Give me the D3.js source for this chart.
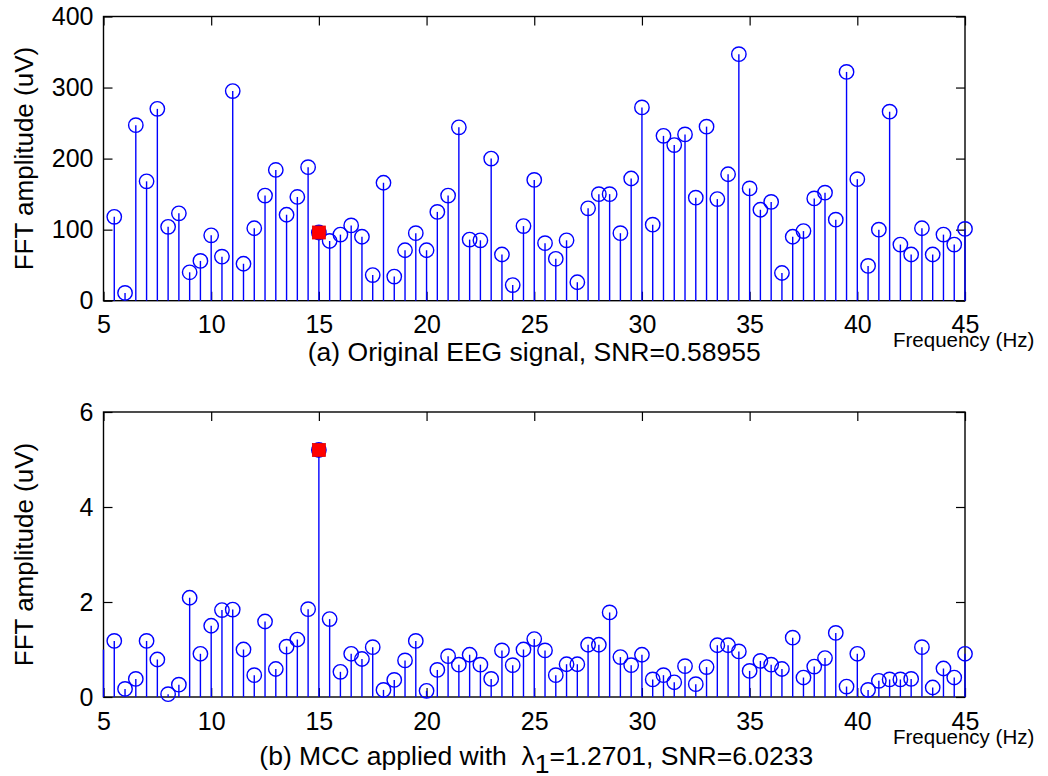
<!DOCTYPE html>
<html>
<head>
<meta charset="utf-8">
<script src="https://cdn.jsdelivr.net/npm/d3@7"></script>
<style>
  body { margin: 0; background: #ffffff; }
  text { font-family: "Liberation Sans", Arial, Helvetica, sans-serif; fill: #000; }
</style>
</head>
<body>
<svg id="fig" width="1048" height="776"></svg>
<script>
// FFT bins (Hz)
const freqs = [
   5.5,  6.0,  6.5,  7.0,  7.5,  8.0,  8.5,  9.0,  9.5, 10.0,
  10.5, 11.0, 11.5, 12.0, 12.5, 13.0, 13.5, 14.0, 14.5, 15.0,
  15.5, 16.0, 16.5, 17.0, 17.5, 18.0, 18.5, 19.0, 19.5, 20.0,
  20.5, 21.0, 21.5, 22.0, 22.5, 23.0, 23.5, 24.0, 24.5, 25.0,
  25.5, 26.0, 26.5, 27.0, 27.5, 28.0, 28.5, 29.0, 29.5, 30.0,
  30.5, 31.0, 31.5, 32.0, 32.5, 33.0, 33.5, 34.0, 34.5, 35.0,
  35.5, 36.0, 36.5, 37.0, 37.5, 38.0, 38.5, 39.0, 39.5, 40.0,
  40.5, 41.0, 41.5, 42.0, 42.5, 43.0, 43.5, 44.0, 44.5, 45.0
];

// (a) amplitude spectrum of the original EEG (uV)
const ampOriginal = [
  118,  11, 247, 168, 270, 104, 123,  40,  56,  92,
   62, 295,  52, 102, 148, 184, 121, 146, 188,  96,
   84,  93, 106,  90,  36, 166,  34,  71,  95,  71,
  125, 148, 244,  86,  85, 200,  65,  22, 105, 170,
   81,  59,  85,  26, 130, 150, 150,  95, 172, 272,
  107, 232, 219, 234, 145, 245, 143, 178, 347, 158,
  128, 139,  39,  90,  98, 144, 152, 114, 322, 171,
   49, 100, 266,  79,  65, 102,  65,  93,  79, 101
];

// (b) amplitude spectrum after MCC (uV)
const ampMCC = [
  1.18, 0.17, 0.38, 1.18, 0.79, 0.06, 0.26, 2.09, 0.91, 1.50,
  1.83, 1.84, 1.00, 0.46, 1.59, 0.59, 1.06, 1.21, 1.85, 5.20,
  1.64, 0.53, 0.91, 0.80, 1.05, 0.15, 0.36, 0.77, 1.18, 0.13,
  0.57, 0.86, 0.68, 0.89, 0.68, 0.38, 0.98, 0.67, 1.00, 1.22,
  0.98, 0.46, 0.69, 0.69, 1.10, 1.10, 1.78, 0.84, 0.67, 0.89,
  0.37, 0.46, 0.31, 0.65, 0.27, 0.63, 1.09, 1.09, 0.96, 0.55,
  0.76, 0.68, 0.59, 1.25, 0.41, 0.64, 0.82, 1.35, 0.22, 0.91,
  0.15, 0.34, 0.37, 0.37, 0.38, 1.05, 0.20, 0.60, 0.41, 0.91
];

// bin lying on the left axis limit of panel (b): only its stem shows
const edgeFreqMCC = [5.0];
const edgeAmpMCC = [1.0];

// stimulation frequency, highlighted in red
const targetFreq = 15;

const xTickValues = [5, 10, 15, 20, 25, 30, 35, 40, 45];
const yTicksOriginal = [0, 100, 200, 300, 400];
const yTicksMCC = [0, 2, 4, 6];

const xDomain = [5, 45];
const yDomainOriginal = [0, 400];
const yDomainMCC = [0, 6];

const yLabelText = "FFT amplitude (uV)";
const xUnitText = "Frequency (Hz)";
const captionA = "(a) Original EEG signal, SNR=0.58955";
const captionB = { pre: "(b) MCC applied with  ", sym: "\u03bb", sub: "1", post: "=1.2701, SNR=6.0233" };

const svg = d3.select("#fig");
const STEM = "#0000ff";

const plotLeft = 103.5, plotRight = 965;
const x = d3.scaleLinear().domain(xDomain).range([plotLeft, plotRight]);

function panel(opts) {
  const { top, bottom, yDomain, yTicks, values, edge } = opts;
  const y = d3.scaleLinear().domain(yDomain).range([bottom, top]);
  const g = svg.append("g");

  // axes box
  g.append("rect")
    .attr("x", plotLeft).attr("y", top)
    .attr("width", plotRight - plotLeft).attr("height", bottom - top)
    .attr("fill", "none").attr("stroke", "#000").attr("stroke-width", 1.4);

  const tickLen = -9;
  const styleAxis = sel => {
    sel.select(".domain").remove();
    sel.selectAll(".tick line").attr("stroke", "#000").attr("stroke-width", 1.2);
    sel.selectAll(".tick text").attr("font-size", 25).attr("fill", "#000")
      .attr("font-family", '"Liberation Sans", Arial, sans-serif');
  };

  g.append("g").attr("transform", `translate(0,${bottom})`)
    .call(d3.axisBottom(x).tickValues(xTickValues).tickFormat(d3.format("d"))
      .tickSizeInner(tickLen).tickSizeOuter(0).tickPadding(15))
    .call(styleAxis);
  g.append("g").attr("transform", `translate(0,${top})`)
    .call(d3.axisTop(x).tickValues(xTickValues).tickFormat("")
      .tickSizeInner(tickLen).tickSizeOuter(0))
    .call(styleAxis);
  g.append("g").attr("transform", `translate(${plotLeft},0)`)
    .call(d3.axisLeft(y).tickValues(yTicks).tickFormat(d3.format("d"))
      .tickSizeInner(tickLen).tickSizeOuter(0).tickPadding(10))
    .call(styleAxis);
  g.append("g").attr("transform", `translate(${plotRight},0)`)
    .call(d3.axisRight(y).tickValues(yTicks).tickFormat("")
      .tickSizeInner(tickLen).tickSizeOuter(0))
    .call(styleAxis);

  const pts = freqs.map((f, i) => ({ f, v: values[i] }));

  // stems
  const stems = g.append("g");
  if (edge) {
    stems.selectAll("line.edge").data(edge).join("line").attr("class", "edge")
      .attr("x1", d => x(d.f)).attr("x2", d => x(d.f))
      .attr("y1", y(0)).attr("y2", d => y(d.v))
      .attr("stroke", STEM).attr("stroke-width", 1.4);
  }
  stems.selectAll("line.stem").data(pts).join("line").attr("class", "stem")
    .attr("x1", d => x(d.f)).attr("x2", d => x(d.f))
    .attr("y1", y(0)).attr("y2", d => y(d.v))
    .attr("stroke", STEM).attr("stroke-width", 1.4);

  // open circle markers
  g.append("g").selectAll("circle").data(pts).join("circle")
    .attr("cx", d => x(d.f)).attr("cy", d => y(d.v)).attr("r", 7.2)
    .attr("fill", "none").attr("stroke", STEM).attr("stroke-width", 1.4);

  // highlighted target bin
  const hit = pts.filter(d => d.f === targetFreq);
  g.append("g").selectAll("rect").data(hit).join("rect")
    .attr("x", d => x(d.f) - 6.5).attr("y", d => y(d.v) - 6.5)
    .attr("width", 13).attr("height", 13)
    .attr("fill", "#ff0000").attr("stroke", "#e00000").attr("stroke-width", 0.8);

  // y label
  g.append("text")
    .attr("transform", `translate(33,${(top + bottom) / 2}) rotate(-90)`)
    .attr("text-anchor", "middle").attr("font-size", 26)
    .text(yLabelText);

  // unit label at the right end of the x axis
  g.append("text")
    .attr("x", 893).attr("y", bottom + 46.5)
    .attr("font-size", 20.5)
    .text(xUnitText);

  return g;
}

const gA = panel({
  top: 16.5, bottom: 300.7,
  yDomain: yDomainOriginal, yTicks: yTicksOriginal, values: ampOriginal
});
gA.append("text")
  .attr("x", (plotLeft + plotRight) / 2).attr("y", 361)
  .attr("text-anchor", "middle").attr("font-size", 26.5)
  .text(captionA);

const gB = panel({
  top: 412, bottom: 697,
  yDomain: yDomainMCC, yTicks: yTicksMCC, values: ampMCC,
  edge: edgeFreqMCC.map((f, i) => ({ f, v: edgeAmpMCC[i] }))
});
const cap = gB.append("text")
  .attr("x", (plotLeft + plotRight) / 2 + 2).attr("y", 765)
  .attr("text-anchor", "middle").attr("font-size", 26.5)
  .attr("xml:space", "preserve")
  .style("white-space", "pre");
cap.append("tspan").text(captionB.pre);
cap.append("tspan").text(captionB.sym);
cap.append("tspan").attr("dy", 8).text(captionB.sub);
cap.append("tspan").attr("dy", -8).text(captionB.post);
</script>
</body>
</html>
